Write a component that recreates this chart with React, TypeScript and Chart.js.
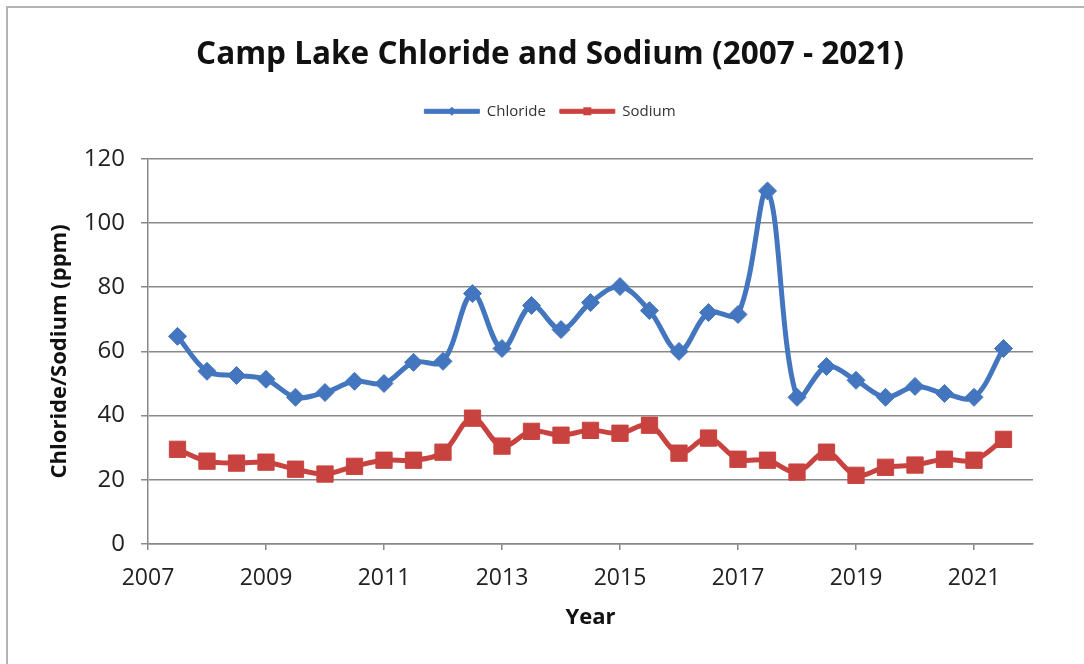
import React, { useEffect, useRef } from "react";
import { Chart, registerables } from "chart.js";

Chart.register(...registerables);

const years = [
  2007.5, 2008, 2008.5, 2009, 2009.5, 2010, 2010.5, 2011, 2011.5, 2012,
  2012.5, 2013, 2013.5, 2014, 2014.5, 2015, 2015.5, 2016, 2016.5, 2017,
  2017.5, 2018, 2018.5, 2019, 2019.5, 2020, 2020.5, 2021, 2021.5,
];
const chloride = [
  64.7, 53.8, 52.5, 51.3, 45.7, 47.2, 50.7, 50.0, 56.6, 56.9,
  78.0, 60.9, 74.3, 66.8, 75.2, 80.2, 72.7, 60.0, 72.1, 71.5,
  110.0, 45.7, 55.3, 51.0, 45.7, 49.1, 46.9, 45.7, 60.9,
];
const sodium = [
  29.5, 25.8, 25.2, 25.5, 23.3, 21.8, 24.2, 26.1, 26.1, 28.6,
  39.2, 30.5, 35.1, 33.9, 35.4, 34.5, 37.0, 28.3, 33.0, 26.4,
  26.1, 22.4, 28.6, 21.4, 23.9, 24.6, 26.4, 26.1, 32.6,
];
const xTickYears = [2007, 2009, 2011, 2013, 2015, 2017, 2019, 2021];

const TITLE = "Camp Lake Chloride and Sodium (2007 - 2021)";
const BLUE = "#4376BE";
const RED = "#C8433F";
const FONT = "'Open Sans', 'DejaVu Sans', sans-serif";
const LEGEND_BOX = 55;

const legendMarkers = {
  id: "legendMarkers",
  afterDraw(chart: any) {
    const legend = chart.legend;
    if (!legend || !legend.legendHitBoxes) return;
    const ctx = chart.ctx;
    legend.legendHitBoxes.forEach((hb: any, i: number) => {
      const ds = chart.data.datasets[i];
      const cx = hb.left + LEGEND_BOX / 2;
      const cy = hb.top + hb.height / 2;
      ctx.save();
      ctx.fillStyle = ds.borderColor;
      ctx.beginPath();
      if (ds.pointStyle === "rectRot") {
        const r = 4.5;
        ctx.moveTo(cx, cy - r);
        ctx.lineTo(cx + r, cy);
        ctx.lineTo(cx, cy + r);
        ctx.lineTo(cx - r, cy);
        ctx.closePath();
      } else {
        const s = 4;
        ctx.rect(cx - s, cy - s, 2 * s, 2 * s);
      }
      ctx.fill();
      ctx.restore();
    });
  },
};

export default function App() {
  const ref = useRef<HTMLCanvasElement | null>(null);

  useEffect(() => {
    if (!ref.current) return;
    const chart = new Chart(ref.current, {
      type: "line",
      plugins: [legendMarkers],
      data: {
        datasets: [
          {
            label: "Chloride",
            data: years.map((x, i) => ({ x, y: chloride[i] })),
            borderColor: BLUE,
            backgroundColor: BLUE,
            borderWidth: 5,
            pointStyle: "rectRot",
            pointRadius: 9,
            pointBackgroundColor: BLUE,
            pointBorderColor: BLUE,
            pointBorderWidth: 1,
            tension: 0.35,
            yAxisID: "y",
          },
          {
            label: "Sodium",
            data: years.map((x, i) => ({ x, y: sodium[i] })),
            borderColor: RED,
            backgroundColor: RED,
            borderWidth: 5,
            pointStyle: "rect",
            pointRadius: 11.5,
            pointBackgroundColor: RED,
            pointBorderColor: RED,
            pointBorderWidth: 1,
            tension: 0.35,
            yAxisID: "y",
          },
        ],
      },
      options: {
        animation: false,
        responsive: false,
        layout: { padding: { top: 0, right: 0, bottom: 0, left: 16 } },
        plugins: {
          title: {
            display: true,
            text: TITLE,
            color: "#111",
            font: { family: FONT, size: 31.5, weight: "bold" },
            padding: { top: 36, bottom: 16 },
          },
          subtitle: {
            display: true,
            text: "",
            weight: 500,
            font: { family: FONT, size: 10, lineHeight: 1 },
            padding: { top: 0, bottom: 20 },
          },
          legend: {
            display: true,
            labels: {
              color: "#333",
              font: { family: FONT, size: 15 },
              boxWidth: LEGEND_BOX,
              boxHeight: 4,
              padding: 14,
              generateLabels: (c: any) =>
                Chart.defaults.plugins.legend.labels
                  .generateLabels(c)
                  .map((l: any) => ({ ...l, lineWidth: 1 })),
            },
          },
          tooltip: { enabled: false },
        },
        scales: {
          x: {
            type: "linear",
            min: 2007,
            max: 2022,
            afterBuildTicks: (scale: any) => {
              scale.ticks = xTickYears.map((v) => ({ value: v }));
            },
            afterFit: (scale: any) => {
              scale.height = 120;
            },
            ticks: {
              color: "#222",
              font: { family: FONT, size: 23 },
              padding: 15,
              maxRotation: 0,
              autoSkip: false,
              callback: (v: any) => String(v),
            },
            grid: {
              display: true,
              drawOnChartArea: false,
              drawTicks: true,
              tickLength: 6,
              color: "#888",
              lineWidth: 1.5,
            },
            border: { display: true, color: "#888", width: 1.5 },
            title: {
              display: true,
              text: "Year",
              color: "#111",
              font: { family: FONT, size: 22, weight: "bold" },
              padding: { top: 0, bottom: 33 },
            },
          },
          y: {
            min: 0,
            max: 120,
            afterFit: (scale: any) => {
              scale.width = 132;
            },
            ticks: {
              stepSize: 20,
              color: "#222",
              font: { family: FONT, size: 24 },
              padding: 16,
            },
            grid: {
              color: "#8a8a8a",
              lineWidth: 1.5,
              tickLength: 7,
            },
            border: { display: true, color: "#888", width: 1.5 },
            title: {
              display: true,
              text: "Chloride/Sodium (ppm)",
              color: "#111",
              font: { family: FONT, size: 22, weight: "bold" },
              padding: { top: 31, bottom: 0 },
            },
          },
          yRight: {
            position: "right",
            display: true,
            min: 0,
            max: 120,
            afterFit: (scale: any) => {
              scale.width = 51;
            },
            ticks: { display: false },
            grid: { display: false, drawTicks: false },
            border: { display: false },
          },
        },
      },
    } as any);
    return () => chart.destroy();
  }, []);

  return (
    <div>
      <div
        style={{
          position: "fixed",
          left: 6,
          top: 6,
          width: 1200,
          height: 1200,
          borderTop: "2px solid #b3b3b3",
          borderLeft: "2px solid #b3b3b3",
          boxSizing: "border-box",
        }}
      />
      <canvas
        ref={ref}
        width={1084}
        height={664}
        style={{ position: "fixed", left: 0, top: 0, width: 1084, height: 664 }}
      />
    </div>
  );
}
